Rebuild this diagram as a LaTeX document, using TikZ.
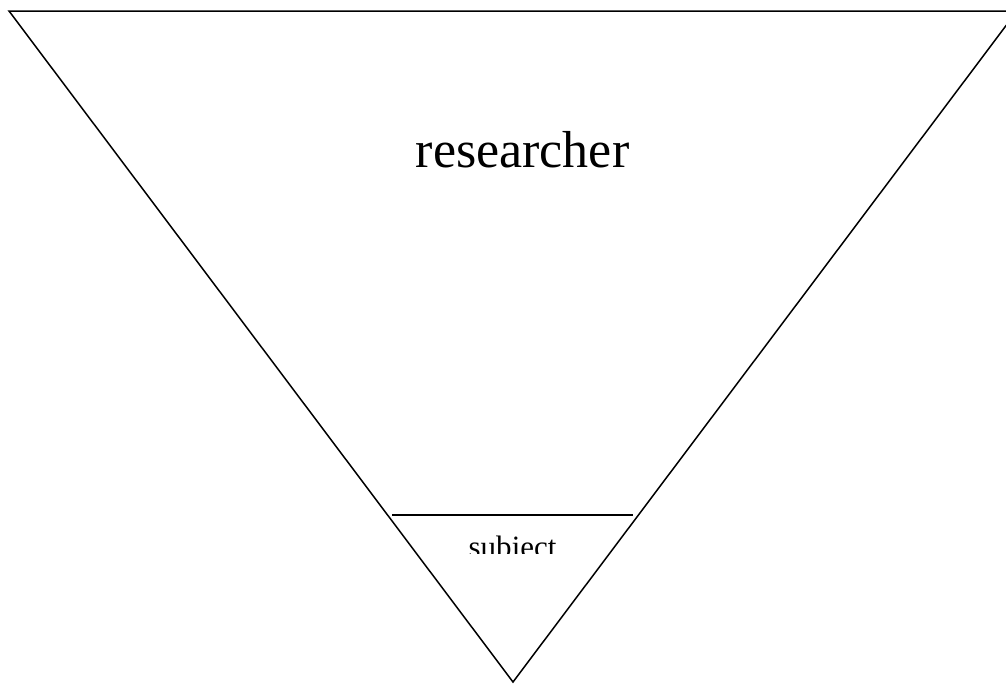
\documentclass[tikz,border=0pt]{standalone}
\usepackage{fontspec}
\setmainfont{Liberation Serif}
\usepackage{tikz}
\tikzset{
  edge/.style={line width=1.5pt,line join=miter},
  lbl/.style={inner sep=0pt,anchor=base}
}
\begin{document}
\begin{tikzpicture}[x=1pt,y=-1pt]
\useasboundingbox (0,0) rectangle (1006,683);
\clip (0,0) rectangle (1006,683);
\coordinate (tl) at (9,11); \coordinate (tr) at (1017,11); \coordinate (ap) at (513,682);
\draw[edge] (tl) -- (tr) -- (ap) -- cycle;
\coordinate (sl) at (392,515); \coordinate (sr) at (633,515);
\draw[edge] (sl) -- (sr);
\node[lbl,font=\fontsize{52}{60}\selectfont] (res) at (522.5,167) {researcher};
\begin{scope}
\clip (0,0) rectangle (1006,553);
\node[lbl,font=\fontsize{31}{36}\selectfont] (sub) at (512.5,557) {subject};
\end{scope}
\end{tikzpicture}
\end{document}
